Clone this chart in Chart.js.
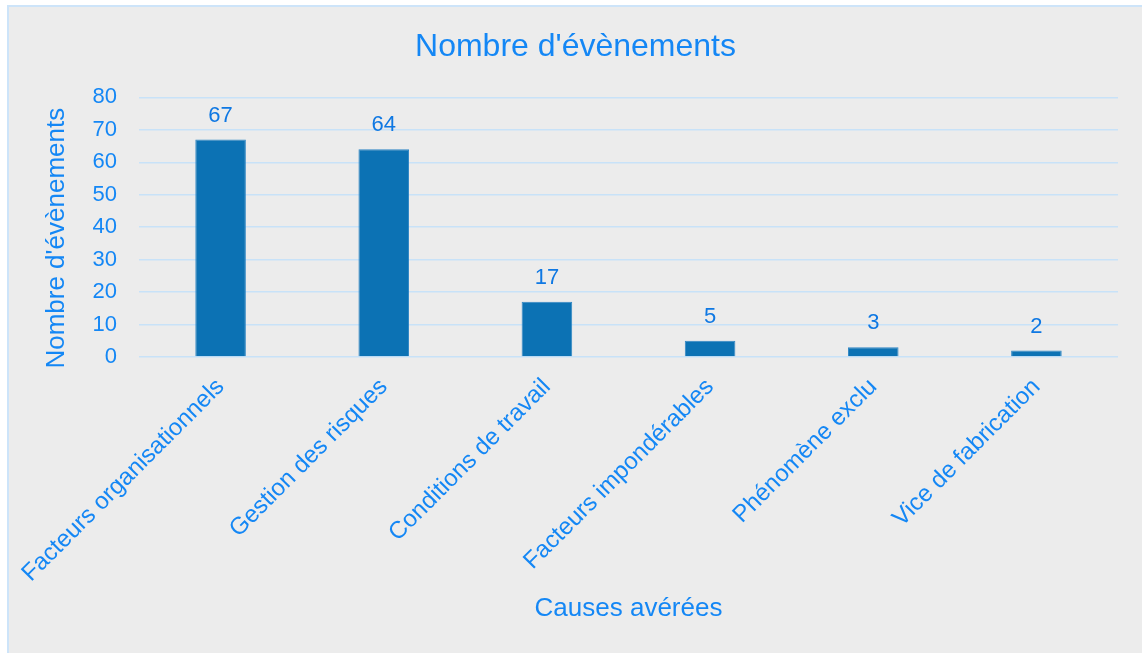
<!DOCTYPE html>
<html>
<head>
<meta charset="utf-8">
<script src="https://cdn.jsdelivr.net/npm/chart.js@4.4.1/dist/chart.umd.min.js"></script>
<style>
  html, body { margin: 0; padding: 0; background: #ffffff; overflow: hidden; }
  #frame {
    position: absolute; left: 7px; top: 5px; width: 1140px; height: 660px;
    border-left: 2px solid #cde4f9; border-top: 2px solid #cde4f9;
    background: #ececec;
  }
  #wrap { position: absolute; left: 0; top: 0; width: 1133px; height: 646px; }
</style>
</head>
<body>
<div id="frame"><div id="wrap"><canvas id="chart"></canvas></div></div>
<script>
  const categories = ['Facteurs organisationnels', 'Gestion des risques', 'Conditions de travail', 'Facteurs impondérables', 'Phénomène exclu', 'Vice de fabrication'];
  const counts = [67, 64, 17, 5, 3, 2];
  const chartTitle = "Nombre d'évènements";
  const yTitle = "Nombre d'évènements";
  const xTitle = 'Causes avérées';

  const TEXT = '#1487f5';
  const FONT = '"Liberation Sans", Arial, sans-serif';

  // numbers above the bars
  const valueLabels = {
    id: 'valueLabels',
    afterDatasetsDraw: function (chart) {
      const ctx = chart.ctx;
      const meta = chart.getDatasetMeta(0);
      ctx.save();
      ctx.fillStyle = '#0f78e3';
      ctx.font = '22px ' + FONT;
      ctx.textAlign = 'center';
      ctx.textBaseline = 'alphabetic';
      meta.data.forEach(function (bar, i) {
        ctx.fillText(String(counts[i]), bar.x, bar.y - 18);
      });
      ctx.restore();
    }
  };

  // y title sits a bit below the middle of the plot in the original
  const yAxisTitle = {
    id: 'yAxisTitle',
    afterDraw: function (chart) {
      const area = chart.chartArea;
      const ctx = chart.ctx;
      ctx.save();
      ctx.translate(area.left - 82, (area.top + area.bottom) / 2 + 11);
      ctx.rotate(-Math.PI / 2);
      ctx.fillStyle = TEXT;
      ctx.font = '26px ' + FONT;
      ctx.textAlign = 'center';
      ctx.textBaseline = 'middle';
      ctx.fillText(yTitle, 0, 0);
      ctx.restore();
    }
  };

  new Chart(document.getElementById('chart'), {
    type: 'bar',
    data: {
      labels: categories,
      datasets: [{
        data: counts,
        backgroundColor: '#0c72b4',
        borderColor: '#2f86c4',
        borderWidth: 1,
        categoryPercentage: 1,
        barPercentage: 0.31
      }]
    },
    options: {
      responsive: true,
      maintainAspectRatio: false,
      animation: false,
      layout: { padding: 0 },
      plugins: {
        legend: { display: false },
        tooltip: { enabled: false },
        title: {
          display: true,
          text: chartTitle,
          color: TEXT,
          font: { family: FONT, size: 32, weight: 'normal' },
          padding: { top: 21, bottom: 31 }
        }
      },
      scales: {
        y: {
          min: 0,
          max: 80,
          ticks: { stepSize: 10, color: TEXT, padding: 22, font: { family: FONT, size: 22 } },
          grid: { color: '#c8e2f8', lineWidth: 1.5, drawTicks: false },
          border: { display: false },
          afterFit: function (scale) { scale.width = 130; }
        },
        // empty spacer on the right so the title stays centred on the whole box
        spacer: {
          type: 'linear',
          position: 'right',
          ticks: { display: false },
          grid: { display: false, drawTicks: false },
          border: { display: false },
          afterFit: function (scale) { scale.width = 24; }
        },
        x: {
          ticks: { color: TEXT, minRotation: 45, maxRotation: 45, padding: 16, font: { family: FONT, size: 24 } },
          grid: { display: false, drawTicks: false },
          border: { display: false },
          title: {
            display: true,
            text: xTitle,
            color: TEXT,
            font: { family: FONT, size: 26 },
            padding: { top: 4, bottom: 29 }
          },
          afterFit: function (scale) {
            scale.height = 296;
            scale.paddingLeft = 0;
            scale.paddingRight = 0;
          }
        }
      }
    },
    plugins: [valueLabels, yAxisTitle]
  });
</script>
</body>
</html>
